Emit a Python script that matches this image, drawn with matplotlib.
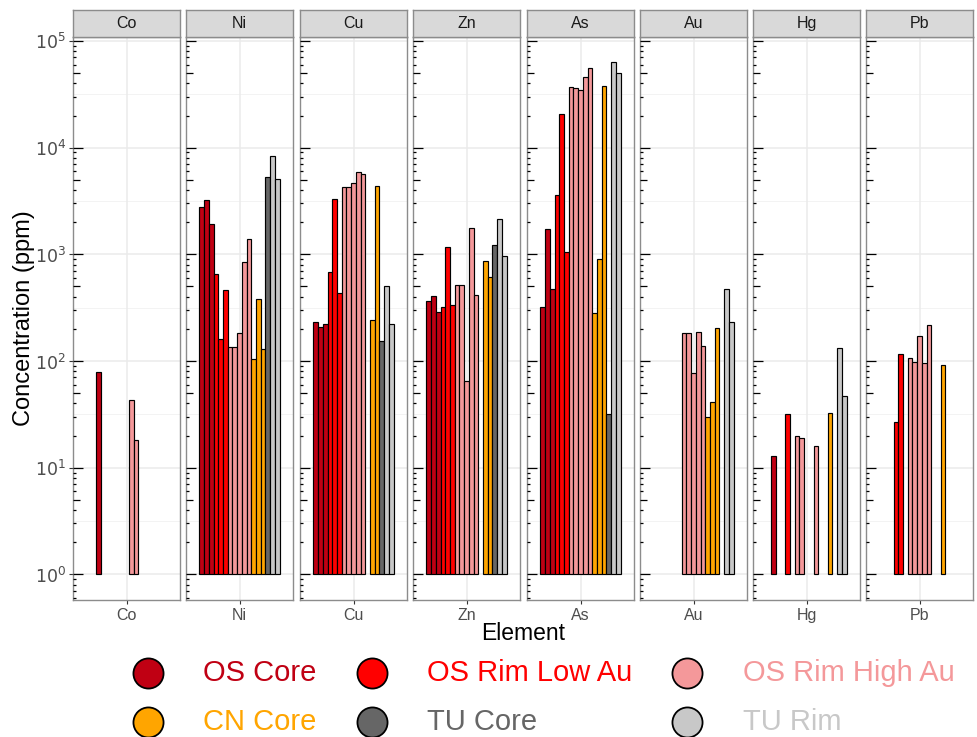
import numpy as np
import matplotlib
matplotlib.use("Agg")
from matplotlib import pyplot as plt
from matplotlib import transforms

plt.rcParams["font.family"] = ["Liberation Sans", "DejaVu Sans"]

elements = ["Co", "Ni", "Cu", "Zn", "As", "Au", "Hg", "Pb"]
groups = ["OS Core", "OS Rim Low Au", "OS Rim High Au", "CN Core", "TU Core", "TU Rim"]
group_colors = ["#C00013", "#FF0000", "#F4989A", "#FFA500", "#666666", "#C8C8C8"]
# sample -> group, 17 samples dodged inside every element
sample_group = [0, 0, 0, 1, 1, 1, 2, 2, 2, 2, 2, 3, 3, 3, 4, 5, 5]

N = None
co = [N, N, 78, N, N, N, N, N, N, 43, 18, N, N, N, N, N, N]
ni = [2760, 3230, 1920, 650, 160, 460, 134, 134, 182, 840, 1390, 104, 378, 130, 5340, 8400, 5080]
cu = [230, 207, 224, 678, 3300, 431, 4250, 4250, 4630, 5870, 5660, N, 240, 4370, 155, 504, 222]
zn = [365, 406, 288, 323, 1170, 335, 512, 512, 65, 1750, 412, N, 859, 617, 1220, 2160, 970]
as_ = [319, 1710, 473, 3570, 20650, 1040, 36800, 36300, 34700, 46000, 55400, 279, 909, 38200, 32, 63500, 50000]
au = [N, N, N, N, N, N, 184, 184, 77, 187, 138, 30, 41.5, 205, N, 473, 233]
hg = [N, 12.9, N, N, 31.8, N, 19.9, 19.1, N, N, 16.1, N, N, 32.5, N, 131, 46.7]
pb = [N, N, N, 27, 116, N, 107, 98, 171, 95, 217, N, N, 91.6, N, N, N]
conc = [co, ni, cu, zn, as_, au, hg, pb]

W, H = 977, 737
fig = plt.figure(figsize=(W / 100, H / 100), dpi=100)

def fx(px):
    return px / W

def fy(py):
    return 1 - py / H

panel_left = [73, 186, 300, 413, 527, 640, 753, 866]
panel_w = 107
top, bottom, strip_top = 37, 600, 10
ylo, yhi = 10 ** -0.241, 10 ** 5.037

n = len(sample_group)
slot = 0.9 / n
xs = 1 - 0.45 + slot * (np.arange(n) + 0.5)

for i, el in enumerate(elements):
    ax = fig.add_axes([fx(panel_left[i]), fy(bottom), fx(panel_w), fy(top) - fy(bottom)])
    ax.set_yscale("log")
    ax.set_xlim(0.4, 1.6)
    ax.set_ylim(ylo, yhi)

    # grid: decades + half-decades, one vertical line at the category
    for d in range(0, 6):
        ax.axhline(10 ** d, color="#EBEBEB", lw=1.1, zorder=0)
    for d in range(0, 5):
        ax.axhline(10 ** (d + 0.5), color="#F3F3F3", lw=0.7, zorder=0)
    ax.axvline(1, color="#EBEBEB", lw=1.1, zorder=0)

    vals = conc[i]
    for k, v in enumerate(vals):
        if v is None:
            continue
        ax.bar(xs[k], v - 1, bottom=1, width=slot,
               color=group_colors[sample_group[k]], edgecolor="black",
               linewidth=0.85, zorder=2)

    # log ticks on the left edge
    trans = transforms.blended_transform_factory(ax.transAxes, ax.transData)
    for d in range(-1, 6):
        for m in range(1, 10):
            y = m * 10.0 ** d
            if y < ylo or y > yhi:
                continue
            length = 10 if m == 1 else (6.7 if m == 5 else 3.4)
            ax.plot([0, length / panel_w], [y, y], color="black", lw=0.9,
                    transform=trans, zorder=3, solid_capstyle="butt")

    for s in ax.spines.values():
        s.set_color("#8C8C8C")
        s.set_linewidth(1.0)
    ax.minorticks_off()
    ax.set_xticks([1])
    ax.set_xticklabels([el], fontsize=11.5, color="#4D4D4D")
    ax.tick_params(axis="x", length=3, color="#333333", pad=3)
    if i == 0:
        ax.set_yticks([10.0 ** d for d in range(6)])
        ax.set_yticklabels([rf"$10^{{{d}}}$" for d in range(6)], fontsize=12.5, color="#4D4D4D")
        ax.tick_params(axis="y", length=3, color="#333333", pad=2)
    else:
        ax.set_yticks([])
    ax.yaxis.set_minor_locator(matplotlib.ticker.NullLocator())

    st = fig.add_axes([fx(panel_left[i]), fy(top), fx(panel_w), fy(strip_top) - fy(top)])
    st.set_facecolor("#D9D9D9")
    st.set_xticks([])
    st.set_yticks([])
    for s in st.spines.values():
        s.set_color("#8C8C8C")
        s.set_linewidth(1.0)
    st.text(0.5, 0.5, el, ha="center", va="center", fontsize=11.5, color="#1A1A1A",
            transform=st.transAxes)

fig.text(fx(523), fy(634), "Element", ha="center", va="center", fontsize=16.5)
fig.text(fx(24), fy(318), "Concentration (ppm)", ha="center", va="center",
         rotation=90, fontsize=17)

# legend
lg = fig.add_axes([0, 0, 1, 1])
lg.set_xlim(0, W)
lg.set_ylim(H, 0)
lg.axis("off")
key_x = [148, 372, 687]
text_x = [203, 427, 743]
row_y = [673, 722]
for g, name in enumerate(groups):
    r, c = divmod(g, 3)
    lg.scatter(key_x[c], row_y[r], s=470, color=group_colors[g], edgecolor="black",
               linewidth=1.3, zorder=3)
    lg.text(text_x[c], row_y[r], name, ha="left", va="center", fontsize=21,
            color=group_colors[g])

fig.savefig("out.png", dpi=100)
